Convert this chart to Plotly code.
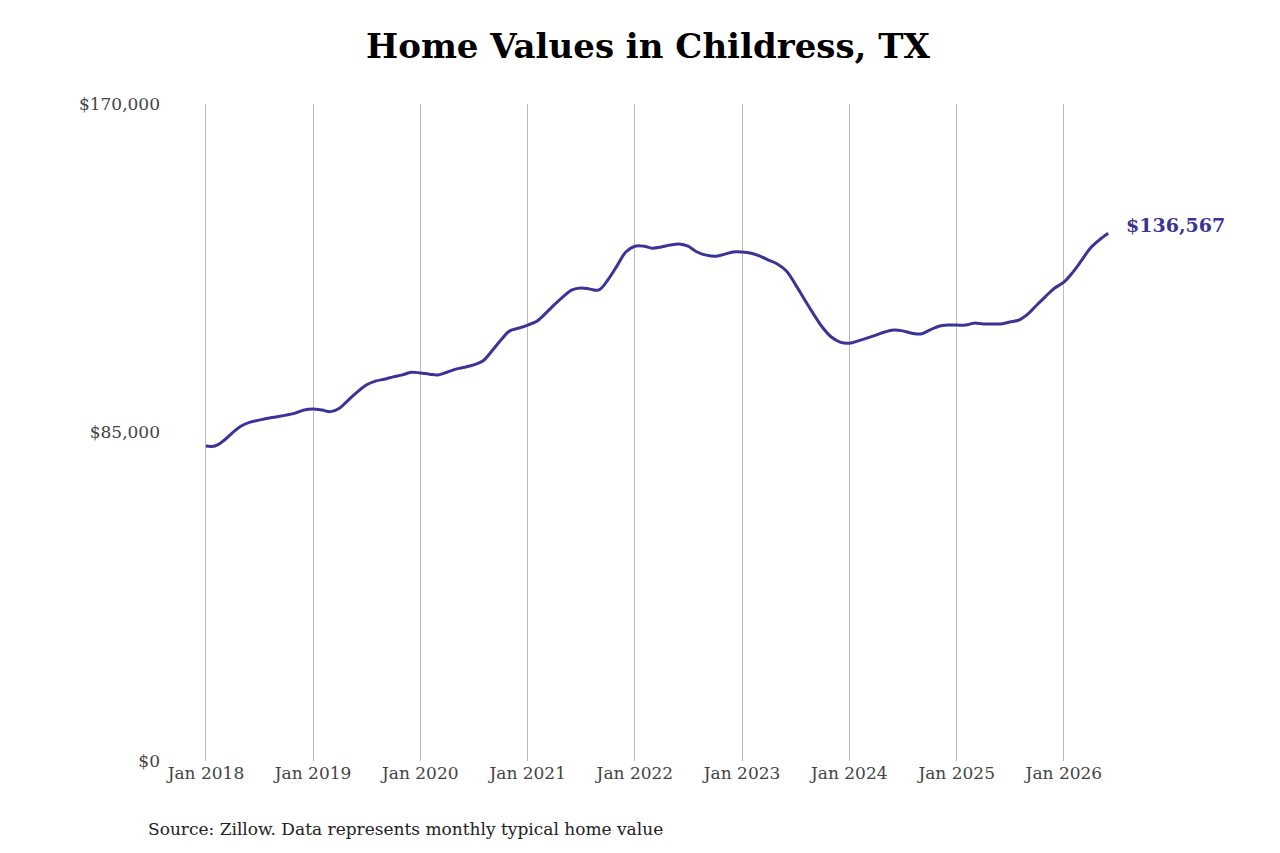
import plotly.graph_objects as go
import pandas as pd

dates = pd.date_range("2018-01-01", "2026-06-01", freq="MS")
values_k = [
81.5,81.5,82.8,84.9,86.7,87.7,88.2,88.7,89.1,89.5,90.0,90.8,
91.1,90.8,90.4,91.3,93.4,95.5,97.3,98.3,98.8,99.4,99.9,100.6,
100.4,100.1,99.9,100.6,101.4,101.9,102.5,103.5,106.1,108.9,111.3,112.0,
112.8,113.8,115.7,118.0,120.1,121.9,122.4,122.1,121.9,124.5,128.1,131.7,
133.2,133.2,132.7,133.0,133.5,133.8,133.2,131.7,130.9,130.6,131.1,131.7,
131.7,131.4,130.7,129.6,128.6,126.8,123.4,119.5,115.7,112.3,109.7,108.4,
108.1,108.7,109.4,110.2,111.0,111.5,111.3,110.7,110.5,111.5,112.5,112.8,
112.8,112.8,113.3,113.1,113.1,113.1,113.6,114.1,115.7,118.0,120.3,122.4,
123.9,126.5,129.4,132.7,134.8,136.567]
values = [v*1000 for v in values_k]
tick_dates = pd.date_range("2018-01-01", "2026-01-01", freq="YS")
tick_labels = [f"Jan {d.year}" for d in tick_dates]
y_ticks = [0, 85000, 170000]
y_labels = ["$0", "$85,000", "$170,000"]
color = "#3b3497"

fig = go.Figure(go.Scatter(x=dates, y=values, mode="lines",
                           line=dict(color=color, width=3, shape="spline")))
fig.add_annotation(x=dates[-1], y=values[-1], text=f"<b>${values[-1]:,.0f}</b>",
                   showarrow=False, xanchor="left", xshift=16, yshift=8,
                   font=dict(family="DejaVu Serif", size=19, color=color))
fig.add_annotation(x=0, xref="paper", xshift=-15, y=0, yref="paper", yshift=-68,
                   text="Source: Zillow. Data represents monthly typical home value",
                   showarrow=False, xanchor="left", yanchor="middle",
                   font=dict(family="DejaVu Serif", size=17, color="#222"))
fig.update_layout(
    width=1280, height=853, plot_bgcolor="white", paper_bgcolor="white",
    margin=dict(l=153, r=171, t=96, b=100), showlegend=False,
    title=dict(text="<b>Home Values in Childress, TX</b>", x=0.5, xanchor="center",
               y=0.955, yanchor="middle", font=dict(family="DejaVu Serif", size=34, color="black")),
    xaxis=dict(range=["2017-08-01", "2026-07-01"], tickvals=tick_dates, ticktext=tick_labels,
               showgrid=True, gridcolor="#bbbbbb", gridwidth=1, zeroline=False,
               showline=False, ticks="", tickfont=dict(family="DejaVu Serif", size=17, color="#444")),
    yaxis=dict(range=[0, 170000], tickvals=y_ticks, ticktext=y_labels, showgrid=False,
               zeroline=False, showline=False, ticks="",
               tickfont=dict(family="DejaVu Serif", size=17, color="#444")),
)
fig.write_html("out.html")
